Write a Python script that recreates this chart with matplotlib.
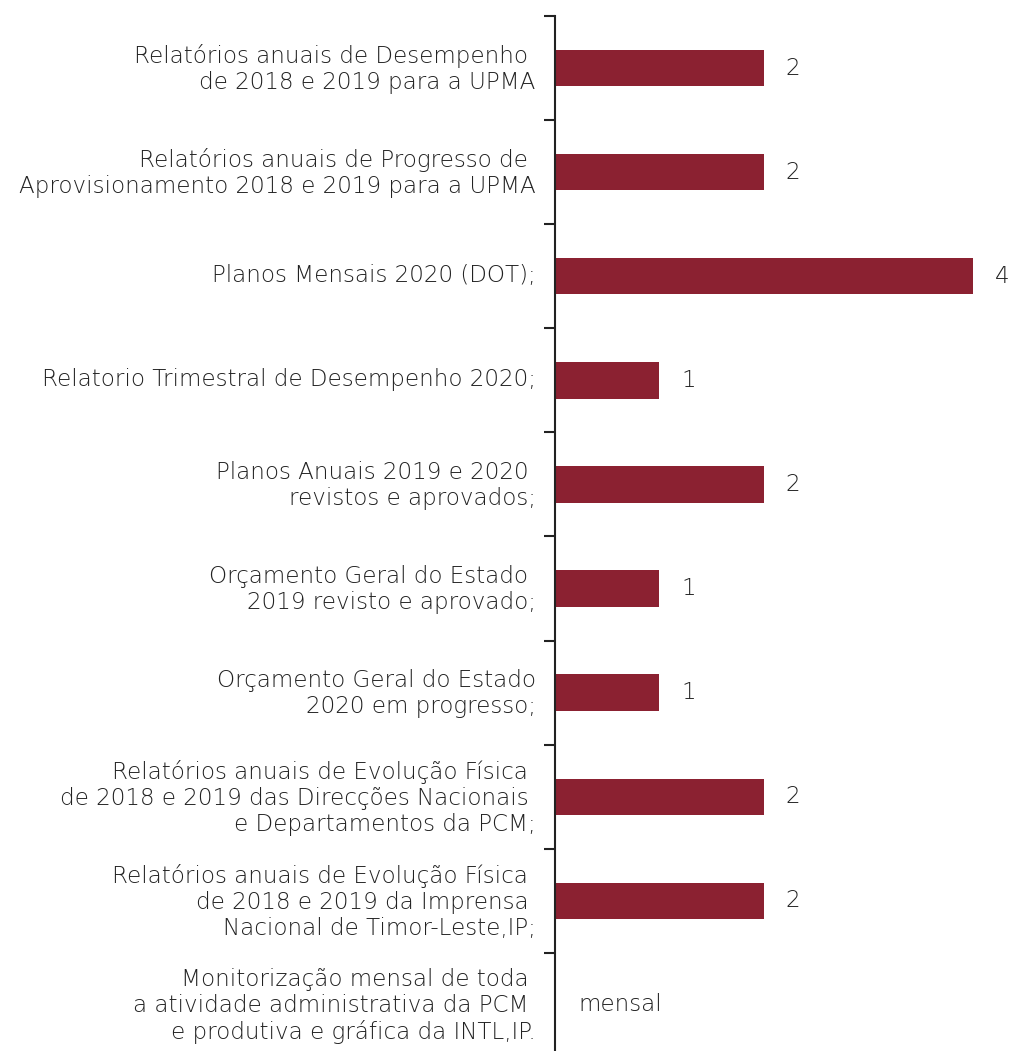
import matplotlib
matplotlib.use("Agg")
import matplotlib.pyplot as plt
import matplotlib.transforms as mtransforms
import numpy as np

categories = [
    "Relatórios anuais de Desempenho \nde 2018 e 2019 para a UPMA",
    "Relatórios anuais de Progresso de \nAprovisionamento 2018 e 2019 para a UPMA",
    "Planos Mensais 2020 (DOT);",
    "Relatorio Trimestral de Desempenho 2020;",
    "Planos Anuais 2019 e 2020 \nrevistos e aprovados;",
    "Orçamento Geral do Estado \n2019 revisto e aprovado;",
    "Orçamento Geral do Estado\n2020 em progresso;",
    "Relatórios anuais de Evolução Física \nde 2018 e 2019 das Direcções Nacionais \ne Departamentos da PCM;",
    "Relatórios anuais de Evolução Física \nde 2018 e 2019 da Imprensa \nNacional de Timor-Leste,IP;",
    "Monitorização mensal de toda \na atividade administrativa da PCM \ne produtiva e gráfica da INTL,IP.",
]
values = [2, 2, 4, 1, 2, 1, 1, 2, 2, None]
value_labels = ["2", "2", "4", "1", "2", "1", "1", "2", "2", "mensal"]

bar_color = "#8B2131"
text_color = "#222222"
font = ["DejaVu Sans"]
fs = 16.6

fig = plt.figure(figsize=(10.21, 10.51), dpi=100)
ax = fig.add_axes([0.5436, -0.0057, 0.4564, 0.9905])

y = np.arange(len(categories))
for i, v in enumerate(values):
    if v is not None:
        ax.barh(i, v, height=0.35, color=bar_color)
        ax.text(v + 0.28, i, value_labels[i], va="center", ha="center",
                fontsize=fs, color=text_color, family=font, fontweight="light")
    else:
        ax.text(0.62, i, value_labels[i], va="center", ha="center",
                fontsize=fs, color=text_color, family=font, fontweight="light")

ax.set_xlim(0, 4.46)
ax.set_ylim(len(categories) - 0.5, -0.5)
ax.set_yticks(y)
ax.set_yticklabels(categories, fontsize=fs, color=text_color, family=font,
                   fontweight="light", ha="right", multialignment="right",
                   linespacing=1.16)
ax.tick_params(axis="y", which="major", length=0, pad=14)
offset = mtransforms.ScaledTranslation(0, 3 / 100, fig.dpi_scale_trans)
for lab in ax.get_yticklabels():
    lab.set_transform(lab.get_transform() + offset)
ax.set_yticks(np.arange(-0.5, len(categories) + 0.5, 1), minor=True)
ax.tick_params(axis="y", which="minor", length=8, width=1.5, color="#222222")
ax.set_xticks([])
for s in ["top", "right", "bottom"]:
    ax.spines[s].set_visible(False)
ax.spines["left"].set_linewidth(1.5)
ax.spines["left"].set_color("#222222")

fig.savefig("out.png", dpi=100)
